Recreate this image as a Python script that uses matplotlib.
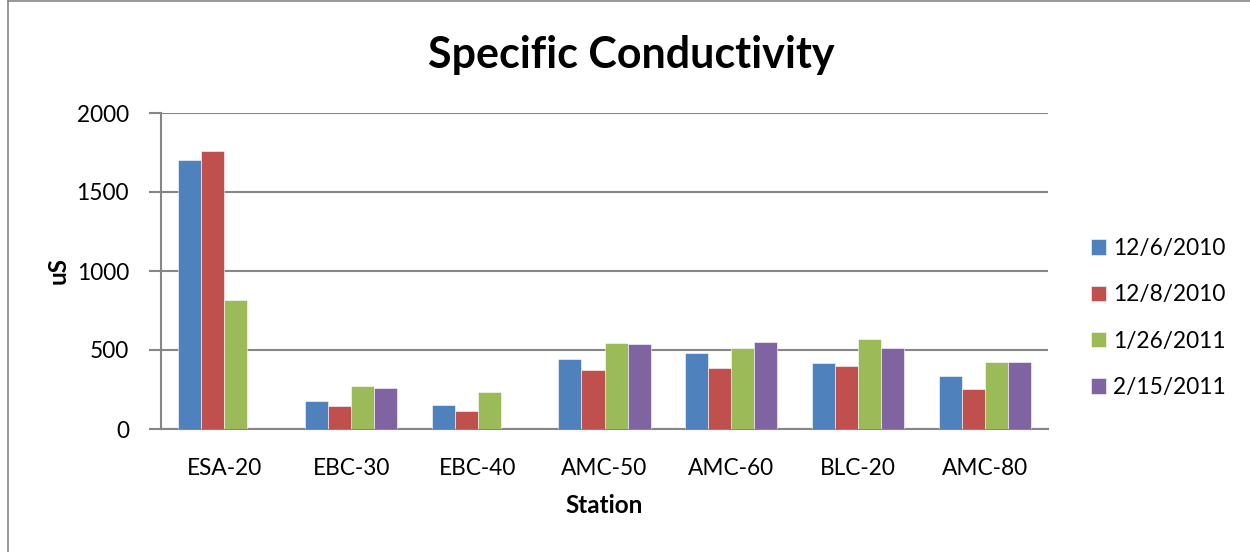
import numpy as np
import matplotlib
matplotlib.use("Agg")
import matplotlib.pyplot as plt
from matplotlib.lines import Line2D

plt.rcParams['font.family'] = ['Lato', 'DejaVu Sans']

stations = ["ESA-20", "EBC-30", "EBC-40", "AMC-50", "AMC-60", "BLC-20", "AMC-80"]
dates = ["12/6/2010", "12/8/2010", "1/26/2011", "2/15/2011"]
cond_dec06 = [1700, 179, 154, 445, 483, 418, 333]
cond_dec08 = [1757, 147, 114, 373, 384, 399, 255]
cond_jan26 = [814, 274, 232, 544, 513, 570, 422]
cond_feb15 = [np.nan, 261, np.nan, 538, 553, 515, 422]
colors = ["#4f81bd", "#c0504d", "#9bbb59", "#8064a2"]

series = [cond_dec06, cond_dec08, cond_jan26, cond_feb15]

fig = plt.figure(figsize=(12.5, 5.52), dpi=100)
ax = fig.add_axes([161/1250, 1 - 429/552, 887/1250, 316/552])

# excel style: gap width 150% -> bar width = 1 / (4 + 1.5)
w = 1 / 5.5
x = np.arange(len(stations))
for i, (vals, c, lab) in enumerate(zip(series, colors, dates)):
    ax.bar(x + (i - 1.5) * w, vals, width=w, color=c, label=lab,
           edgecolor="white", linewidth=0.4, zorder=3)

ax.set_xlim(-0.5, len(stations) - 0.5)
ax.set_ylim(0, 2000)
ax.set_yticks([0, 500, 1000, 1500, 2000])
ax.set_xticks(x)
ax.set_xticklabels(stations)
ax.grid(axis="y", color="#868686", linewidth=1.5, zorder=0)
for s in ["top", "right"]:
    ax.spines[s].set_visible(False)
for s in ["left", "bottom"]:
    ax.spines[s].set_color("#868686")
    ax.spines[s].set_linewidth(1.5)
ax.tick_params(axis="y", length=9, width=1.5, color="#868686", labelsize=16.3, pad=14)
ax.tick_params(axis="x", length=0, labelsize=16.3, pad=21)

ax.set_xlabel("Station", fontsize=17.5, fontweight="bold", labelpad=11)
ax.set_ylabel("uS", fontsize=17.5, fontweight="bold", labelpad=5)
fig.text(0.505, 1 - 55/552, "Specific Conductivity", ha="center", va="center",
         fontsize=31, fontweight="bold")

fig.legend(loc="center left", bbox_to_anchor=(1091/1250, 1 - 318/552), frameon=False,
           fontsize=16.3, handlelength=0.66, handleheight=0.66, handletextpad=0.3,
           labelspacing=1.12, borderpad=0, borderaxespad=0)

# chart area border (left and top edges only)
fig.add_artist(Line2D([8/1250, 8/1250], [0, 1 - 1/552], transform=fig.transFigure,
                      color="#868686", linewidth=1.2))
fig.add_artist(Line2D([8/1250, 1], [1 - 1/552, 1 - 1/552], transform=fig.transFigure,
                      color="#868686", linewidth=1.2))

fig.savefig("out.png", dpi=100)
